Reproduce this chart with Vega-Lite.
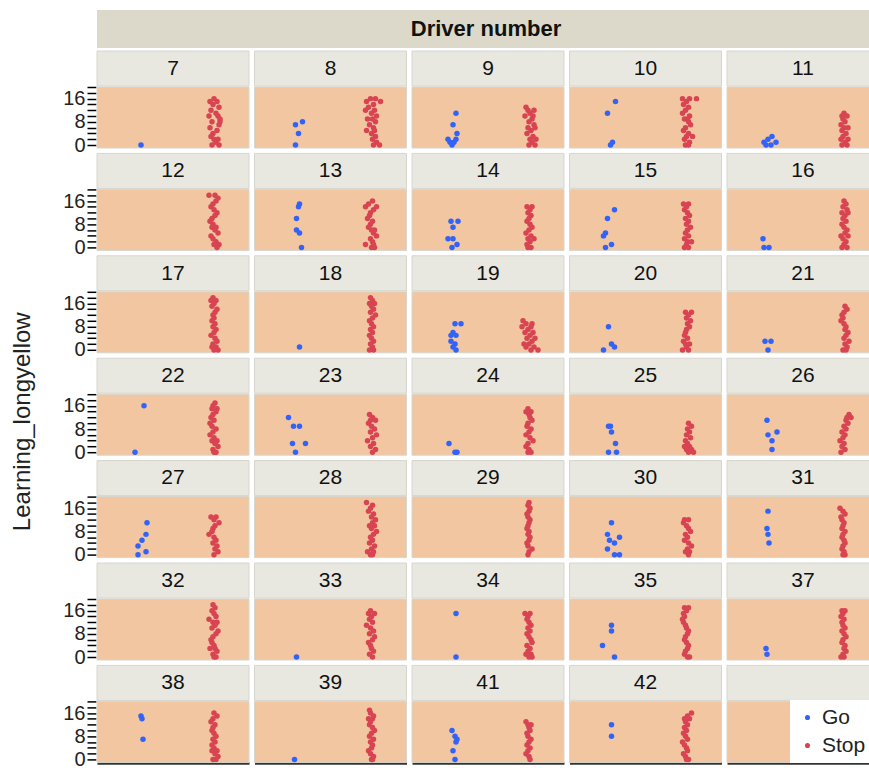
{
  "$schema": "https://vega.github.io/schema/vega-lite/v6.json",
  "background": "white",
  "padding": {"left": 10, "top": 10, "right": 0, "bottom": 2},
  "title": {"text": "Learning_longyellow", "orient": "left", "anchor": "middle", "fontSize": 24, "fontWeight": "normal", "font": "Liberation Sans", "color": "#222", "offset": 28, "dx": -32},
  "config": {
    "font": "Liberation Sans",
    "view": {"stroke": null},
    "header": {"labels": false, "title": null, "labelPadding": 0, "labelFontSize": 1, "labelColor": "transparent", "labelExpr": "''"},
    "headerFacet": {"labels": false, "title": null, "labelPadding": 0, "labelFontSize": 1, "labelColor": "transparent", "labelExpr": "''"}
  },
  "spacing": 1,
  "vconcat": [
    {
      "width": 778,
      "height": 38,
      "view": {"fill": "#DCD9CA", "stroke": null},
      "data": {"values": [{"label": "Driver number"}]},
      "mark": {"type": "text", "fontWeight": "bold", "fontSize": 22, "color": "#111", "baseline": "middle"},
      "encoding": {"text": {"field": "label"}}
    },
    {
      "data": {"values": [
        {"d":"7","r":"Go","v":0,"j":4},
        {"d":"7","r":"Stop","v":16,"j":1},{"d":"7","r":"Stop","v":15,"j":-3},{"d":"7","r":"Stop","v":15,"j":4},{"d":"7","r":"Stop","v":14,"j":0},{"d":"7","r":"Stop","v":13,"j":6},{"d":"7","r":"Stop","v":12,"j":-2},{"d":"7","r":"Stop","v":11,"j":3},{"d":"7","r":"Stop","v":10,"j":-4},{"d":"7","r":"Stop","v":10,"j":5},{"d":"7","r":"Stop","v":9,"j":7},{"d":"7","r":"Stop","v":8,"j":-1},{"d":"7","r":"Stop","v":8,"j":7},{"d":"7","r":"Stop","v":7,"j":6},{"d":"7","r":"Stop","v":6,"j":-3},{"d":"7","r":"Stop","v":5,"j":4},{"d":"7","r":"Stop","v":4,"j":0},{"d":"7","r":"Stop","v":3,"j":-2},{"d":"7","r":"Stop","v":2,"j":5},{"d":"7","r":"Stop","v":2,"j":1},{"d":"7","r":"Stop","v":1,"j":3},{"d":"7","r":"Stop","v":0,"j":-1},{"d":"7","r":"Stop","v":0,"j":6},
        {"d":"8","r":"Go","v":8,"j":8},{"d":"8","r":"Go","v":7,"j":1},{"d":"8","r":"Go","v":4,"j":4},{"d":"8","r":"Go","v":0,"j":1},
        {"d":"8","r":"Stop","v":16,"j":0},{"d":"8","r":"Stop","v":16,"j":5},{"d":"8","r":"Stop","v":15,"j":-4},{"d":"8","r":"Stop","v":15,"j":10},{"d":"8","r":"Stop","v":14,"j":3},{"d":"8","r":"Stop","v":13,"j":-2},{"d":"8","r":"Stop","v":12,"j":4},{"d":"8","r":"Stop","v":12,"j":-5},{"d":"8","r":"Stop","v":11,"j":1},{"d":"8","r":"Stop","v":10,"j":6},{"d":"8","r":"Stop","v":9,"j":-3},{"d":"8","r":"Stop","v":9,"j":2},{"d":"8","r":"Stop","v":8,"j":5},{"d":"8","r":"Stop","v":7,"j":-1},{"d":"8","r":"Stop","v":6,"j":3},{"d":"8","r":"Stop","v":5,"j":-4},{"d":"8","r":"Stop","v":5,"j":4},{"d":"8","r":"Stop","v":4,"j":1},{"d":"8","r":"Stop","v":3,"j":5},{"d":"8","r":"Stop","v":2,"j":2},{"d":"8","r":"Stop","v":1,"j":6},{"d":"8","r":"Stop","v":0,"j":3},{"d":"8","r":"Stop","v":0,"j":9},
        {"d":"9","r":"Go","v":11,"j":4},{"d":"9","r":"Go","v":7,"j":1},{"d":"9","r":"Go","v":4,"j":5},{"d":"9","r":"Go","v":2,"j":-4},{"d":"9","r":"Go","v":1,"j":-2},{"d":"9","r":"Go","v":2,"j":4},{"d":"9","r":"Go","v":0,"j":0},{"d":"9","r":"Go","v":1,"j":2},
        {"d":"9","r":"Stop","v":13,"j":-2},{"d":"9","r":"Stop","v":12,"j":0},{"d":"9","r":"Stop","v":12,"j":6},{"d":"9","r":"Stop","v":11,"j":2},{"d":"9","r":"Stop","v":10,"j":-3},{"d":"9","r":"Stop","v":10,"j":5},{"d":"9","r":"Stop","v":9,"j":4},{"d":"9","r":"Stop","v":8,"j":1},{"d":"9","r":"Stop","v":7,"j":6},{"d":"9","r":"Stop","v":6,"j":0},{"d":"9","r":"Stop","v":6,"j":7},{"d":"9","r":"Stop","v":5,"j":3},{"d":"9","r":"Stop","v":4,"j":-1},{"d":"9","r":"Stop","v":3,"j":5},{"d":"9","r":"Stop","v":2,"j":2},{"d":"9","r":"Stop","v":2,"j":8},{"d":"9","r":"Stop","v":1,"j":4},{"d":"9","r":"Stop","v":0,"j":1},{"d":"9","r":"Stop","v":0,"j":7},
        {"d":"10","r":"Go","v":15,"j":6},{"d":"10","r":"Go","v":11,"j":-2},{"d":"10","r":"Go","v":1,"j":3},{"d":"10","r":"Go","v":0,"j":1},
        {"d":"10","r":"Stop","v":16,"j":-3},{"d":"10","r":"Stop","v":16,"j":4},{"d":"10","r":"Stop","v":16,"j":11},{"d":"10","r":"Stop","v":15,"j":1},{"d":"10","r":"Stop","v":14,"j":-2},{"d":"10","r":"Stop","v":13,"j":3},{"d":"10","r":"Stop","v":12,"j":0},{"d":"10","r":"Stop","v":11,"j":-3},{"d":"10","r":"Stop","v":10,"j":4},{"d":"10","r":"Stop","v":9,"j":2},{"d":"10","r":"Stop","v":9,"j":-1},{"d":"10","r":"Stop","v":8,"j":3},{"d":"10","r":"Stop","v":7,"j":5},{"d":"10","r":"Stop","v":6,"j":0},{"d":"10","r":"Stop","v":5,"j":-2},{"d":"10","r":"Stop","v":4,"j":3},{"d":"10","r":"Stop","v":3,"j":1},{"d":"10","r":"Stop","v":3,"j":7},{"d":"10","r":"Stop","v":2,"j":-1},{"d":"10","r":"Stop","v":1,"j":4},{"d":"10","r":"Stop","v":0,"j":0},{"d":"10","r":"Stop","v":0,"j":3},
        {"d":"11","r":"Go","v":3,"j":5},{"d":"11","r":"Go","v":2,"j":1},{"d":"11","r":"Go","v":1,"j":-3},{"d":"11","r":"Go","v":1,"j":9},{"d":"11","r":"Go","v":0,"j":-1},{"d":"11","r":"Go","v":0,"j":4},
        {"d":"11","r":"Stop","v":11,"j":1},{"d":"11","r":"Stop","v":10,"j":-1},{"d":"11","r":"Stop","v":10,"j":4},{"d":"11","r":"Stop","v":9,"j":0},{"d":"11","r":"Stop","v":8,"j":2},{"d":"11","r":"Stop","v":7,"j":-2},{"d":"11","r":"Stop","v":6,"j":5},{"d":"11","r":"Stop","v":6,"j":1},{"d":"11","r":"Stop","v":5,"j":-1},{"d":"11","r":"Stop","v":4,"j":3},{"d":"11","r":"Stop","v":3,"j":0},{"d":"11","r":"Stop","v":2,"j":5},{"d":"11","r":"Stop","v":2,"j":-2},{"d":"11","r":"Stop","v":1,"j":2},{"d":"11","r":"Stop","v":0,"j":-1},{"d":"11","r":"Stop","v":0,"j":4},
        {"d":"12","r":"Stop","v":18,"j":-4},{"d":"12","r":"Stop","v":18,"j":2},{"d":"12","r":"Stop","v":17,"j":5},{"d":"12","r":"Stop","v":16,"j":3},{"d":"12","r":"Stop","v":15,"j":0},{"d":"12","r":"Stop","v":14,"j":-2},{"d":"12","r":"Stop","v":13,"j":1},{"d":"12","r":"Stop","v":12,"j":4},{"d":"12","r":"Stop","v":11,"j":2},{"d":"12","r":"Stop","v":10,"j":-1},{"d":"12","r":"Stop","v":9,"j":-3},{"d":"12","r":"Stop","v":8,"j":0},{"d":"12","r":"Stop","v":7,"j":3},{"d":"12","r":"Stop","v":7,"j":-1},{"d":"12","r":"Stop","v":6,"j":2},{"d":"12","r":"Stop","v":5,"j":5},{"d":"12","r":"Stop","v":4,"j":-2},{"d":"12","r":"Stop","v":3,"j":0},{"d":"12","r":"Stop","v":2,"j":3},{"d":"12","r":"Stop","v":1,"j":1},{"d":"12","r":"Stop","v":1,"j":6},{"d":"12","r":"Stop","v":0,"j":4},
        {"d":"13","r":"Go","v":15,"j":5},{"d":"13","r":"Go","v":14,"j":4},{"d":"13","r":"Go","v":10,"j":2},{"d":"13","r":"Go","v":6,"j":2},{"d":"13","r":"Go","v":5,"j":5},{"d":"13","r":"Go","v":0,"j":7},
        {"d":"13","r":"Stop","v":16,"j":2},{"d":"13","r":"Stop","v":15,"j":-2},{"d":"13","r":"Stop","v":14,"j":-5},{"d":"13","r":"Stop","v":14,"j":6},{"d":"13","r":"Stop","v":13,"j":3},{"d":"13","r":"Stop","v":12,"j":0},{"d":"13","r":"Stop","v":11,"j":-1},{"d":"13","r":"Stop","v":10,"j":-3},{"d":"13","r":"Stop","v":9,"j":2},{"d":"13","r":"Stop","v":8,"j":0},{"d":"13","r":"Stop","v":7,"j":-2},{"d":"13","r":"Stop","v":6,"j":1},{"d":"13","r":"Stop","v":6,"j":4},{"d":"13","r":"Stop","v":5,"j":3},{"d":"13","r":"Stop","v":4,"j":6},{"d":"13","r":"Stop","v":3,"j":0},{"d":"13","r":"Stop","v":2,"j":2},{"d":"13","r":"Stop","v":1,"j":-5},{"d":"13","r":"Stop","v":1,"j":3},{"d":"13","r":"Stop","v":0,"j":1},{"d":"13","r":"Stop","v":0,"j":4},
        {"d":"14","r":"Go","v":9,"j":-1},{"d":"14","r":"Go","v":9,"j":6},{"d":"14","r":"Go","v":7,"j":1},{"d":"14","r":"Go","v":3,"j":-4},{"d":"14","r":"Go","v":3,"j":1},{"d":"14","r":"Go","v":1,"j":5},{"d":"14","r":"Go","v":0,"j":0},
        {"d":"14","r":"Stop","v":14,"j":-1},{"d":"14","r":"Stop","v":14,"j":4},{"d":"14","r":"Stop","v":13,"j":2},{"d":"14","r":"Stop","v":12,"j":0},{"d":"14","r":"Stop","v":11,"j":3},{"d":"14","r":"Stop","v":10,"j":1},{"d":"14","r":"Stop","v":9,"j":-1},{"d":"14","r":"Stop","v":8,"j":2},{"d":"14","r":"Stop","v":7,"j":4},{"d":"14","r":"Stop","v":6,"j":1},{"d":"14","r":"Stop","v":5,"j":-2},{"d":"14","r":"Stop","v":4,"j":3},{"d":"14","r":"Stop","v":3,"j":0},{"d":"14","r":"Stop","v":3,"j":6},{"d":"14","r":"Stop","v":2,"j":2},{"d":"14","r":"Stop","v":1,"j":-1},{"d":"14","r":"Stop","v":0,"j":3},{"d":"14","r":"Stop","v":0,"j":0},
        {"d":"15","r":"Go","v":13,"j":5},{"d":"15","r":"Go","v":10,"j":-2},{"d":"15","r":"Go","v":5,"j":-4},{"d":"15","r":"Go","v":4,"j":-6},{"d":"15","r":"Go","v":1,"j":2},{"d":"15","r":"Go","v":0,"j":-4},
        {"d":"15","r":"Stop","v":15,"j":-2},{"d":"15","r":"Stop","v":15,"j":3},{"d":"15","r":"Stop","v":14,"j":1},{"d":"15","r":"Stop","v":13,"j":-1},{"d":"15","r":"Stop","v":12,"j":2},{"d":"15","r":"Stop","v":11,"j":4},{"d":"15","r":"Stop","v":10,"j":0},{"d":"15","r":"Stop","v":9,"j":3},{"d":"15","r":"Stop","v":8,"j":1},{"d":"15","r":"Stop","v":7,"j":5},{"d":"15","r":"Stop","v":6,"j":2},{"d":"15","r":"Stop","v":5,"j":0},{"d":"15","r":"Stop","v":4,"j":3},{"d":"15","r":"Stop","v":3,"j":-1},{"d":"15","r":"Stop","v":2,"j":2},{"d":"15","r":"Stop","v":2,"j":6},{"d":"15","r":"Stop","v":1,"j":1},{"d":"15","r":"Stop","v":0,"j":-1},{"d":"15","r":"Stop","v":0,"j":3},
        {"d":"16","r":"Go","v":3,"j":-4},{"d":"16","r":"Go","v":0,"j":-3},{"d":"16","r":"Go","v":0,"j":2},
        {"d":"16","r":"Stop","v":16,"j":1},{"d":"16","r":"Stop","v":15,"j":3},{"d":"16","r":"Stop","v":14,"j":0},{"d":"16","r":"Stop","v":13,"j":4},{"d":"16","r":"Stop","v":12,"j":-1},{"d":"16","r":"Stop","v":12,"j":5},{"d":"16","r":"Stop","v":11,"j":2},{"d":"16","r":"Stop","v":10,"j":0},{"d":"16","r":"Stop","v":9,"j":3},{"d":"16","r":"Stop","v":8,"j":-1},{"d":"16","r":"Stop","v":7,"j":1},{"d":"16","r":"Stop","v":6,"j":4},{"d":"16","r":"Stop","v":5,"j":2},{"d":"16","r":"Stop","v":4,"j":-2},{"d":"16","r":"Stop","v":4,"j":5},{"d":"16","r":"Stop","v":3,"j":0},{"d":"16","r":"Stop","v":2,"j":3},{"d":"16","r":"Stop","v":1,"j":1},{"d":"16","r":"Stop","v":0,"j":-1},{"d":"16","r":"Stop","v":0,"j":4},
        {"d":"17","r":"Stop","v":18,"j":0},{"d":"17","r":"Stop","v":17,"j":-2},{"d":"17","r":"Stop","v":17,"j":3},{"d":"17","r":"Stop","v":16,"j":1},{"d":"17","r":"Stop","v":15,"j":-1},{"d":"17","r":"Stop","v":14,"j":4},{"d":"17","r":"Stop","v":13,"j":2},{"d":"17","r":"Stop","v":12,"j":0},{"d":"17","r":"Stop","v":11,"j":1},{"d":"17","r":"Stop","v":10,"j":-1},{"d":"17","r":"Stop","v":9,"j":2},{"d":"17","r":"Stop","v":8,"j":0},{"d":"17","r":"Stop","v":7,"j":3},{"d":"17","r":"Stop","v":6,"j":1},{"d":"17","r":"Stop","v":5,"j":-2},{"d":"17","r":"Stop","v":4,"j":2},{"d":"17","r":"Stop","v":3,"j":4},{"d":"17","r":"Stop","v":2,"j":0},{"d":"17","r":"Stop","v":1,"j":3},{"d":"17","r":"Stop","v":1,"j":-1},{"d":"17","r":"Stop","v":0,"j":1},{"d":"17","r":"Stop","v":0,"j":5},
        {"d":"18","r":"Go","v":1,"j":5},
        {"d":"18","r":"Stop","v":18,"j":0},{"d":"18","r":"Stop","v":17,"j":2},{"d":"18","r":"Stop","v":16,"j":-1},{"d":"18","r":"Stop","v":16,"j":4},{"d":"18","r":"Stop","v":15,"j":1},{"d":"18","r":"Stop","v":14,"j":3},{"d":"18","r":"Stop","v":13,"j":0},{"d":"18","r":"Stop","v":12,"j":5},{"d":"18","r":"Stop","v":11,"j":2},{"d":"18","r":"Stop","v":10,"j":-1},{"d":"18","r":"Stop","v":9,"j":1},{"d":"18","r":"Stop","v":8,"j":3},{"d":"18","r":"Stop","v":7,"j":0},{"d":"18","r":"Stop","v":6,"j":2},{"d":"18","r":"Stop","v":5,"j":-1},{"d":"18","r":"Stop","v":4,"j":1},{"d":"18","r":"Stop","v":3,"j":3},{"d":"18","r":"Stop","v":2,"j":0},{"d":"18","r":"Stop","v":1,"j":2},{"d":"18","r":"Stop","v":0,"j":-1},{"d":"18","r":"Stop","v":0,"j":3},
        {"d":"19","r":"Go","v":9,"j":3},{"d":"19","r":"Go","v":9,"j":9},{"d":"19","r":"Go","v":6,"j":1},{"d":"19","r":"Go","v":5,"j":-1},{"d":"19","r":"Go","v":5,"j":4},{"d":"19","r":"Go","v":3,"j":-1},{"d":"19","r":"Go","v":2,"j":3},{"d":"19","r":"Go","v":1,"j":1},{"d":"19","r":"Go","v":0,"j":4},
        {"d":"19","r":"Stop","v":10,"j":-5},{"d":"19","r":"Stop","v":9,"j":-2},{"d":"19","r":"Stop","v":9,"j":4},{"d":"19","r":"Stop","v":8,"j":-6},{"d":"19","r":"Stop","v":8,"j":3},{"d":"19","r":"Stop","v":7,"j":0},{"d":"19","r":"Stop","v":6,"j":5},{"d":"19","r":"Stop","v":6,"j":-3},{"d":"19","r":"Stop","v":5,"j":2},{"d":"19","r":"Stop","v":4,"j":-1},{"d":"19","r":"Stop","v":4,"j":7},{"d":"19","r":"Stop","v":3,"j":4},{"d":"19","r":"Stop","v":2,"j":-4},{"d":"19","r":"Stop","v":2,"j":1},{"d":"19","r":"Stop","v":1,"j":6},{"d":"19","r":"Stop","v":1,"j":-2},{"d":"19","r":"Stop","v":0,"j":3},{"d":"19","r":"Stop","v":0,"j":10},
        {"d":"20","r":"Go","v":8,"j":-1},{"d":"20","r":"Go","v":2,"j":2},{"d":"20","r":"Go","v":1,"j":5},{"d":"20","r":"Go","v":0,"j":-6},
        {"d":"20","r":"Stop","v":13,"j":0},{"d":"20","r":"Stop","v":13,"j":6},{"d":"20","r":"Stop","v":12,"j":3},{"d":"20","r":"Stop","v":11,"j":1},{"d":"20","r":"Stop","v":10,"j":5},{"d":"20","r":"Stop","v":9,"j":2},{"d":"20","r":"Stop","v":8,"j":4},{"d":"20","r":"Stop","v":7,"j":1},{"d":"20","r":"Stop","v":6,"j":0},{"d":"20","r":"Stop","v":5,"j":-1},{"d":"20","r":"Stop","v":4,"j":2},{"d":"20","r":"Stop","v":3,"j":-2},{"d":"20","r":"Stop","v":2,"j":0},{"d":"20","r":"Stop","v":2,"j":4},{"d":"20","r":"Stop","v":1,"j":1},{"d":"20","r":"Stop","v":0,"j":-3},{"d":"20","r":"Stop","v":0,"j":3},
        {"d":"21","r":"Go","v":3,"j":-2},{"d":"21","r":"Go","v":3,"j":4},{"d":"21","r":"Go","v":0,"j":1},
        {"d":"21","r":"Stop","v":15,"j":2},{"d":"21","r":"Stop","v":14,"j":4},{"d":"21","r":"Stop","v":13,"j":1},{"d":"21","r":"Stop","v":12,"j":-1},{"d":"21","r":"Stop","v":11,"j":0},{"d":"21","r":"Stop","v":10,"j":-2},{"d":"21","r":"Stop","v":9,"j":1},{"d":"21","r":"Stop","v":8,"j":3},{"d":"21","r":"Stop","v":7,"j":2},{"d":"21","r":"Stop","v":6,"j":5},{"d":"21","r":"Stop","v":5,"j":3},{"d":"21","r":"Stop","v":4,"j":1},{"d":"21","r":"Stop","v":3,"j":6},{"d":"21","r":"Stop","v":2,"j":2},{"d":"21","r":"Stop","v":1,"j":4},{"d":"21","r":"Stop","v":0,"j":0},{"d":"21","r":"Stop","v":0,"j":3},
        {"d":"22","r":"Go","v":16,"j":7},{"d":"22","r":"Go","v":0,"j":-2},
        {"d":"22","r":"Stop","v":17,"j":2},{"d":"22","r":"Stop","v":16,"j":0},{"d":"22","r":"Stop","v":15,"j":-1},{"d":"22","r":"Stop","v":15,"j":4},{"d":"22","r":"Stop","v":14,"j":3},{"d":"22","r":"Stop","v":13,"j":0},{"d":"22","r":"Stop","v":12,"j":-2},{"d":"22","r":"Stop","v":11,"j":1},{"d":"22","r":"Stop","v":10,"j":-3},{"d":"22","r":"Stop","v":9,"j":-1},{"d":"22","r":"Stop","v":8,"j":3},{"d":"22","r":"Stop","v":7,"j":0},{"d":"22","r":"Stop","v":6,"j":-3},{"d":"22","r":"Stop","v":5,"j":1},{"d":"22","r":"Stop","v":4,"j":4},{"d":"22","r":"Stop","v":4,"j":-1},{"d":"22","r":"Stop","v":3,"j":2},{"d":"22","r":"Stop","v":2,"j":5},{"d":"22","r":"Stop","v":1,"j":0},{"d":"22","r":"Stop","v":0,"j":3},{"d":"22","r":"Stop","v":0,"j":1},
        {"d":"23","r":"Go","v":12,"j":-6},{"d":"23","r":"Go","v":9,"j":-1},{"d":"23","r":"Go","v":9,"j":5},{"d":"23","r":"Go","v":3,"j":-2},{"d":"23","r":"Go","v":3,"j":11},{"d":"23","r":"Go","v":0,"j":1},
        {"d":"23","r":"Stop","v":13,"j":-1},{"d":"23","r":"Stop","v":12,"j":2},{"d":"23","r":"Stop","v":11,"j":0},{"d":"23","r":"Stop","v":11,"j":5},{"d":"23","r":"Stop","v":10,"j":-2},{"d":"23","r":"Stop","v":9,"j":1},{"d":"23","r":"Stop","v":8,"j":4},{"d":"23","r":"Stop","v":7,"j":0},{"d":"23","r":"Stop","v":6,"j":6},{"d":"23","r":"Stop","v":5,"j":2},{"d":"23","r":"Stop","v":4,"j":-3},{"d":"23","r":"Stop","v":3,"j":3},{"d":"23","r":"Stop","v":2,"j":0},{"d":"23","r":"Stop","v":1,"j":5},{"d":"23","r":"Stop","v":0,"j":2},
        {"d":"24","r":"Go","v":3,"j":-3},{"d":"24","r":"Go","v":0,"j":3},{"d":"24","r":"Go","v":0,"j":5},
        {"d":"24","r":"Stop","v":15,"j":0},{"d":"24","r":"Stop","v":14,"j":-2},{"d":"24","r":"Stop","v":14,"j":3},{"d":"24","r":"Stop","v":13,"j":1},{"d":"24","r":"Stop","v":12,"j":2},{"d":"24","r":"Stop","v":11,"j":4},{"d":"24","r":"Stop","v":10,"j":0},{"d":"24","r":"Stop","v":9,"j":-1},{"d":"24","r":"Stop","v":8,"j":3},{"d":"24","r":"Stop","v":7,"j":1},{"d":"24","r":"Stop","v":6,"j":-2},{"d":"24","r":"Stop","v":5,"j":2},{"d":"24","r":"Stop","v":4,"j":5},{"d":"24","r":"Stop","v":3,"j":0},{"d":"24","r":"Stop","v":2,"j":-2},{"d":"24","r":"Stop","v":1,"j":1},{"d":"24","r":"Stop","v":0,"j":3},{"d":"24","r":"Stop","v":0,"j":0},
        {"d":"25","r":"Go","v":9,"j":-1},{"d":"25","r":"Go","v":9,"j":1},{"d":"25","r":"Go","v":7,"j":2},{"d":"25","r":"Go","v":3,"j":6},{"d":"25","r":"Go","v":0,"j":-1},{"d":"25","r":"Go","v":0,"j":7},
        {"d":"25","r":"Stop","v":10,"j":3},{"d":"25","r":"Stop","v":9,"j":6},{"d":"25","r":"Stop","v":8,"j":2},{"d":"25","r":"Stop","v":7,"j":4},{"d":"25","r":"Stop","v":6,"j":1},{"d":"25","r":"Stop","v":5,"j":5},{"d":"25","r":"Stop","v":4,"j":0},{"d":"25","r":"Stop","v":3,"j":2},{"d":"25","r":"Stop","v":2,"j":-1},{"d":"25","r":"Stop","v":2,"j":4},{"d":"25","r":"Stop","v":1,"j":1},{"d":"25","r":"Stop","v":1,"j":6},{"d":"25","r":"Stop","v":0,"j":3},{"d":"25","r":"Stop","v":0,"j":8},
        {"d":"26","r":"Go","v":11,"j":0},{"d":"26","r":"Go","v":7,"j":10},{"d":"26","r":"Go","v":6,"j":1},{"d":"26","r":"Go","v":4,"j":5},{"d":"26","r":"Go","v":1,"j":5},
        {"d":"26","r":"Stop","v":13,"j":6},{"d":"26","r":"Stop","v":12,"j":4},{"d":"26","r":"Stop","v":12,"j":8},{"d":"26","r":"Stop","v":11,"j":3},{"d":"26","r":"Stop","v":10,"j":5},{"d":"26","r":"Stop","v":9,"j":1},{"d":"26","r":"Stop","v":8,"j":3},{"d":"26","r":"Stop","v":7,"j":-1},{"d":"26","r":"Stop","v":6,"j":2},{"d":"26","r":"Stop","v":5,"j":0},{"d":"26","r":"Stop","v":4,"j":-3},{"d":"26","r":"Stop","v":3,"j":1},{"d":"26","r":"Stop","v":2,"j":-1},{"d":"26","r":"Stop","v":1,"j":2},{"d":"26","r":"Stop","v":0,"j":-2},
        {"d":"27","r":"Go","v":11,"j":10},{"d":"27","r":"Go","v":7,"j":9},{"d":"27","r":"Go","v":5,"j":5},{"d":"27","r":"Go","v":3,"j":1},{"d":"27","r":"Go","v":1,"j":9},{"d":"27","r":"Go","v":0,"j":1},
        {"d":"27","r":"Stop","v":13,"j":-2},{"d":"27","r":"Stop","v":13,"j":3},{"d":"27","r":"Stop","v":12,"j":1},{"d":"27","r":"Stop","v":11,"j":6},{"d":"27","r":"Stop","v":10,"j":2},{"d":"27","r":"Stop","v":9,"j":0},{"d":"27","r":"Stop","v":8,"j":-1},{"d":"27","r":"Stop","v":7,"j":-4},{"d":"27","r":"Stop","v":6,"j":1},{"d":"27","r":"Stop","v":5,"j":3},{"d":"27","r":"Stop","v":4,"j":0},{"d":"27","r":"Stop","v":3,"j":4},{"d":"27","r":"Stop","v":2,"j":2},{"d":"27","r":"Stop","v":1,"j":5},{"d":"27","r":"Stop","v":0,"j":1},
        {"d":"28","r":"Stop","v":18,"j":-4},{"d":"28","r":"Stop","v":17,"j":2},{"d":"28","r":"Stop","v":16,"j":0},{"d":"28","r":"Stop","v":15,"j":-2},{"d":"28","r":"Stop","v":14,"j":3},{"d":"28","r":"Stop","v":13,"j":1},{"d":"28","r":"Stop","v":12,"j":5},{"d":"28","r":"Stop","v":11,"j":2},{"d":"28","r":"Stop","v":10,"j":-1},{"d":"28","r":"Stop","v":10,"j":4},{"d":"28","r":"Stop","v":9,"j":1},{"d":"28","r":"Stop","v":8,"j":6},{"d":"28","r":"Stop","v":7,"j":3},{"d":"28","r":"Stop","v":6,"j":0},{"d":"28","r":"Stop","v":5,"j":2},{"d":"28","r":"Stop","v":4,"j":-1},{"d":"28","r":"Stop","v":3,"j":4},{"d":"28","r":"Stop","v":2,"j":1},{"d":"28","r":"Stop","v":1,"j":-3},{"d":"28","r":"Stop","v":1,"j":3},{"d":"28","r":"Stop","v":0,"j":0},{"d":"28","r":"Stop","v":0,"j":2},
        {"d":"29","r":"Stop","v":18,"j":1},{"d":"29","r":"Stop","v":17,"j":0},{"d":"29","r":"Stop","v":16,"j":2},{"d":"29","r":"Stop","v":15,"j":1},{"d":"29","r":"Stop","v":14,"j":-1},{"d":"29","r":"Stop","v":13,"j":0},{"d":"29","r":"Stop","v":12,"j":2},{"d":"29","r":"Stop","v":11,"j":1},{"d":"29","r":"Stop","v":10,"j":0},{"d":"29","r":"Stop","v":9,"j":-1},{"d":"29","r":"Stop","v":8,"j":1},{"d":"29","r":"Stop","v":7,"j":0},{"d":"29","r":"Stop","v":6,"j":2},{"d":"29","r":"Stop","v":5,"j":1},{"d":"29","r":"Stop","v":4,"j":-1},{"d":"29","r":"Stop","v":3,"j":0},{"d":"29","r":"Stop","v":2,"j":4},{"d":"29","r":"Stop","v":1,"j":1},{"d":"29","r":"Stop","v":0,"j":0},
        {"d":"30","r":"Go","v":11,"j":2},{"d":"30","r":"Go","v":7,"j":-2},{"d":"30","r":"Go","v":6,"j":10},{"d":"30","r":"Go","v":5,"j":0},{"d":"30","r":"Go","v":4,"j":5},{"d":"30","r":"Go","v":2,"j":-2},{"d":"30","r":"Go","v":0,"j":5},{"d":"30","r":"Go","v":0,"j":10},
        {"d":"30","r":"Stop","v":12,"j":-1},{"d":"30","r":"Stop","v":12,"j":3},{"d":"30","r":"Stop","v":11,"j":-2},{"d":"30","r":"Stop","v":10,"j":1},{"d":"30","r":"Stop","v":9,"j":3},{"d":"30","r":"Stop","v":8,"j":5},{"d":"30","r":"Stop","v":7,"j":0},{"d":"30","r":"Stop","v":6,"j":2},{"d":"30","r":"Stop","v":5,"j":-1},{"d":"30","r":"Stop","v":4,"j":3},{"d":"30","r":"Stop","v":3,"j":6},{"d":"30","r":"Stop","v":2,"j":2},{"d":"30","r":"Stop","v":1,"j":0},{"d":"30","r":"Stop","v":1,"j":4},{"d":"30","r":"Stop","v":0,"j":3},
        {"d":"31","r":"Go","v":15,"j":1},{"d":"31","r":"Go","v":9,"j":0},{"d":"31","r":"Go","v":7,"j":1},{"d":"31","r":"Go","v":4,"j":2},
        {"d":"31","r":"Stop","v":16,"j":-3},{"d":"31","r":"Stop","v":15,"j":0},{"d":"31","r":"Stop","v":14,"j":2},{"d":"31","r":"Stop","v":13,"j":-2},{"d":"31","r":"Stop","v":12,"j":-1},{"d":"31","r":"Stop","v":11,"j":1},{"d":"31","r":"Stop","v":10,"j":0},{"d":"31","r":"Stop","v":9,"j":-1},{"d":"31","r":"Stop","v":8,"j":2},{"d":"31","r":"Stop","v":7,"j":0},{"d":"31","r":"Stop","v":6,"j":-1},{"d":"31","r":"Stop","v":5,"j":1},{"d":"31","r":"Stop","v":4,"j":2},{"d":"31","r":"Stop","v":3,"j":0},{"d":"31","r":"Stop","v":2,"j":-1},{"d":"31","r":"Stop","v":1,"j":1},{"d":"31","r":"Stop","v":0,"j":0},{"d":"31","r":"Stop","v":0,"j":2},
        {"d":"32","r":"Stop","v":18,"j":0},{"d":"32","r":"Stop","v":17,"j":2},{"d":"32","r":"Stop","v":16,"j":-1},{"d":"32","r":"Stop","v":15,"j":1},{"d":"32","r":"Stop","v":14,"j":3},{"d":"32","r":"Stop","v":13,"j":-4},{"d":"32","r":"Stop","v":12,"j":0},{"d":"32","r":"Stop","v":12,"j":4},{"d":"32","r":"Stop","v":11,"j":2},{"d":"32","r":"Stop","v":10,"j":-1},{"d":"32","r":"Stop","v":9,"j":5},{"d":"32","r":"Stop","v":8,"j":3},{"d":"32","r":"Stop","v":7,"j":0},{"d":"32","r":"Stop","v":6,"j":-2},{"d":"32","r":"Stop","v":5,"j":-1},{"d":"32","r":"Stop","v":4,"j":1},{"d":"32","r":"Stop","v":3,"j":-3},{"d":"32","r":"Stop","v":3,"j":2},{"d":"32","r":"Stop","v":2,"j":4},{"d":"32","r":"Stop","v":1,"j":0},{"d":"32","r":"Stop","v":0,"j":1},{"d":"32","r":"Stop","v":0,"j":3},
        {"d":"33","r":"Go","v":0,"j":2},
        {"d":"33","r":"Stop","v":16,"j":0},{"d":"33","r":"Stop","v":15,"j":-2},{"d":"33","r":"Stop","v":15,"j":4},{"d":"33","r":"Stop","v":14,"j":1},{"d":"33","r":"Stop","v":13,"j":-1},{"d":"33","r":"Stop","v":12,"j":2},{"d":"33","r":"Stop","v":11,"j":-4},{"d":"33","r":"Stop","v":10,"j":0},{"d":"33","r":"Stop","v":9,"j":3},{"d":"33","r":"Stop","v":8,"j":-1},{"d":"33","r":"Stop","v":7,"j":4},{"d":"33","r":"Stop","v":6,"j":2},{"d":"33","r":"Stop","v":5,"j":-2},{"d":"33","r":"Stop","v":4,"j":0},{"d":"33","r":"Stop","v":3,"j":1},{"d":"33","r":"Stop","v":2,"j":3},{"d":"33","r":"Stop","v":1,"j":-1},{"d":"33","r":"Stop","v":0,"j":2},
        {"d":"34","r":"Go","v":15,"j":4},{"d":"34","r":"Go","v":0,"j":4},
        {"d":"34","r":"Stop","v":15,"j":-3},{"d":"34","r":"Stop","v":15,"j":2},{"d":"34","r":"Stop","v":14,"j":0},{"d":"34","r":"Stop","v":13,"j":-1},{"d":"34","r":"Stop","v":12,"j":1},{"d":"34","r":"Stop","v":11,"j":3},{"d":"34","r":"Stop","v":10,"j":0},{"d":"34","r":"Stop","v":9,"j":2},{"d":"34","r":"Stop","v":8,"j":-1},{"d":"34","r":"Stop","v":7,"j":1},{"d":"34","r":"Stop","v":6,"j":3},{"d":"34","r":"Stop","v":5,"j":4},{"d":"34","r":"Stop","v":4,"j":-1},{"d":"34","r":"Stop","v":3,"j":2},{"d":"34","r":"Stop","v":2,"j":0},{"d":"34","r":"Stop","v":1,"j":-2},{"d":"34","r":"Stop","v":1,"j":3},{"d":"34","r":"Stop","v":0,"j":1},{"d":"34","r":"Stop","v":0,"j":4},
        {"d":"35","r":"Go","v":11,"j":2},{"d":"35","r":"Go","v":9,"j":2},{"d":"35","r":"Go","v":4,"j":-7},{"d":"35","r":"Go","v":0,"j":5},
        {"d":"35","r":"Stop","v":17,"j":-1},{"d":"35","r":"Stop","v":17,"j":3},{"d":"35","r":"Stop","v":16,"j":1},{"d":"35","r":"Stop","v":15,"j":-2},{"d":"35","r":"Stop","v":14,"j":-1},{"d":"35","r":"Stop","v":13,"j":-3},{"d":"35","r":"Stop","v":12,"j":-2},{"d":"35","r":"Stop","v":11,"j":0},{"d":"35","r":"Stop","v":10,"j":1},{"d":"35","r":"Stop","v":9,"j":3},{"d":"35","r":"Stop","v":8,"j":2},{"d":"35","r":"Stop","v":7,"j":0},{"d":"35","r":"Stop","v":6,"j":-1},{"d":"35","r":"Stop","v":5,"j":1},{"d":"35","r":"Stop","v":4,"j":3},{"d":"35","r":"Stop","v":3,"j":2},{"d":"35","r":"Stop","v":2,"j":0},{"d":"35","r":"Stop","v":1,"j":-1},{"d":"35","r":"Stop","v":0,"j":2},{"d":"35","r":"Stop","v":0,"j":4},
        {"d":"37","r":"Go","v":3,"j":-1},{"d":"37","r":"Go","v":1,"j":0},
        {"d":"37","r":"Stop","v":16,"j":-1},{"d":"37","r":"Stop","v":16,"j":2},{"d":"37","r":"Stop","v":15,"j":0},{"d":"37","r":"Stop","v":14,"j":-2},{"d":"37","r":"Stop","v":13,"j":1},{"d":"37","r":"Stop","v":12,"j":-1},{"d":"37","r":"Stop","v":11,"j":0},{"d":"37","r":"Stop","v":10,"j":2},{"d":"37","r":"Stop","v":9,"j":-1},{"d":"37","r":"Stop","v":8,"j":1},{"d":"37","r":"Stop","v":7,"j":3},{"d":"37","r":"Stop","v":6,"j":0},{"d":"37","r":"Stop","v":5,"j":-1},{"d":"37","r":"Stop","v":4,"j":2},{"d":"37","r":"Stop","v":3,"j":1},{"d":"37","r":"Stop","v":2,"j":3},{"d":"37","r":"Stop","v":1,"j":0},{"d":"37","r":"Stop","v":0,"j":-2},{"d":"37","r":"Stop","v":0,"j":1},
        {"d":"38","r":"Go","v":15,"j":4},{"d":"38","r":"Go","v":14,"j":5},{"d":"38","r":"Go","v":7,"j":6},
        {"d":"38","r":"Stop","v":16,"j":1},{"d":"38","r":"Stop","v":15,"j":4},{"d":"38","r":"Stop","v":14,"j":0},{"d":"38","r":"Stop","v":13,"j":-2},{"d":"38","r":"Stop","v":12,"j":2},{"d":"38","r":"Stop","v":11,"j":0},{"d":"38","r":"Stop","v":10,"j":-1},{"d":"38","r":"Stop","v":9,"j":1},{"d":"38","r":"Stop","v":8,"j":3},{"d":"38","r":"Stop","v":7,"j":0},{"d":"38","r":"Stop","v":6,"j":2},{"d":"38","r":"Stop","v":5,"j":-1},{"d":"38","r":"Stop","v":4,"j":1},{"d":"38","r":"Stop","v":3,"j":4},{"d":"38","r":"Stop","v":3,"j":-1},{"d":"38","r":"Stop","v":2,"j":2},{"d":"38","r":"Stop","v":1,"j":5},{"d":"38","r":"Stop","v":0,"j":0},{"d":"38","r":"Stop","v":0,"j":3},
        {"d":"39","r":"Go","v":0,"j":0},
        {"d":"39","r":"Stop","v":17,"j":-1},{"d":"39","r":"Stop","v":16,"j":0},{"d":"39","r":"Stop","v":15,"j":3},{"d":"39","r":"Stop","v":14,"j":-2},{"d":"39","r":"Stop","v":14,"j":2},{"d":"39","r":"Stop","v":13,"j":0},{"d":"39","r":"Stop","v":12,"j":-1},{"d":"39","r":"Stop","v":11,"j":2},{"d":"39","r":"Stop","v":10,"j":4},{"d":"39","r":"Stop","v":9,"j":1},{"d":"39","r":"Stop","v":8,"j":-1},{"d":"39","r":"Stop","v":7,"j":3},{"d":"39","r":"Stop","v":6,"j":0},{"d":"39","r":"Stop","v":5,"j":2},{"d":"39","r":"Stop","v":4,"j":1},{"d":"39","r":"Stop","v":3,"j":-2},{"d":"39","r":"Stop","v":2,"j":0},{"d":"39","r":"Stop","v":1,"j":3},{"d":"39","r":"Stop","v":0,"j":1},{"d":"39","r":"Stop","v":0,"j":2},
        {"d":"41","r":"Go","v":10,"j":0},{"d":"41","r":"Go","v":8,"j":3},{"d":"41","r":"Go","v":7,"j":5},{"d":"41","r":"Go","v":6,"j":4},{"d":"41","r":"Go","v":3,"j":1},{"d":"41","r":"Go","v":0,"j":3},
        {"d":"41","r":"Stop","v":13,"j":-2},{"d":"41","r":"Stop","v":12,"j":3},{"d":"41","r":"Stop","v":12,"j":0},{"d":"41","r":"Stop","v":11,"j":1},{"d":"41","r":"Stop","v":10,"j":2},{"d":"41","r":"Stop","v":9,"j":-1},{"d":"41","r":"Stop","v":8,"j":0},{"d":"41","r":"Stop","v":7,"j":3},{"d":"41","r":"Stop","v":6,"j":1},{"d":"41","r":"Stop","v":5,"j":-1},{"d":"41","r":"Stop","v":4,"j":2},{"d":"41","r":"Stop","v":3,"j":0},{"d":"41","r":"Stop","v":2,"j":-2},{"d":"41","r":"Stop","v":1,"j":1},{"d":"41","r":"Stop","v":0,"j":2},
        {"d":"42","r":"Go","v":12,"j":2},{"d":"42","r":"Go","v":8,"j":2},
        {"d":"42","r":"Stop","v":16,"j":6},{"d":"42","r":"Stop","v":15,"j":2},{"d":"42","r":"Stop","v":14,"j":-1},{"d":"42","r":"Stop","v":14,"j":4},{"d":"42","r":"Stop","v":13,"j":0},{"d":"42","r":"Stop","v":12,"j":2},{"d":"42","r":"Stop","v":11,"j":-1},{"d":"42","r":"Stop","v":10,"j":1},{"d":"42","r":"Stop","v":9,"j":-2},{"d":"42","r":"Stop","v":8,"j":0},{"d":"42","r":"Stop","v":7,"j":2},{"d":"42","r":"Stop","v":6,"j":-3},{"d":"42","r":"Stop","v":5,"j":-1},{"d":"42","r":"Stop","v":4,"j":1},{"d":"42","r":"Stop","v":3,"j":2},{"d":"42","r":"Stop","v":2,"j":-2},{"d":"42","r":"Stop","v":1,"j":0},{"d":"42","r":"Stop","v":0,"j":3},{"d":"42","r":"Stop","v":0,"j":1},
        {"d":""}
      ]},
      "facet": {
        "field": "d",
        "type": "nominal",
        "sort": ["7","8","9","10","11","12","13","14","15","16","17","18","19","20","21","22","23","24","25","26","27","28","29","30","31","32","33","34","35","37","38","39","41","42",""],
        "header": {"labels": false, "title": null, "labelPadding": 0, "labelFontSize": 1, "labelColor": "transparent", "labelExpr": "''"}
      },
      "columns": 5,
      "spacing": {"row": 2.4, "column": 3.5},
      "spec": {
        "width": 152,
        "height": 97,
        "layer": [
          {
            "transform": [{"aggregate": [{"op": "count", "as": "n"}], "groupby": ["d"]}],
            "mark": {"type": "rect", "fill": "#F1C6A0", "stroke": "#D6D6CE", "strokeWidth": 1},
            "encoding": {
              "x": {"value": 0},
              "x2": {"value": "width"},
              "y": {"datum": -1, "type": "quantitative"},
              "y2": {"datum": 20}
            }
          },
          {
            "transform": [{"aggregate": [{"op": "count", "as": "n"}], "groupby": ["d"]}],
            "mark": {"type": "rect", "fill": "#E8E8E0", "stroke": "#D6D6CE", "strokeWidth": 1},
            "encoding": {
              "x": {"value": 0},
              "x2": {"value": "width"},
              "y": {"datum": 20.35, "type": "quantitative"},
              "y2": {"datum": 32.4}
            }
          },
          {
            "transform": [{"aggregate": [{"op": "count", "as": "n"}], "groupby": ["d"]}],
            "mark": {"type": "text", "fontSize": 21, "color": "#111", "baseline": "middle", "font": "Liberation Sans"},
            "encoding": {
              "y": {"datum": 26.3, "type": "quantitative"},
              "text": {"field": "d", "type": "nominal"}
            }
          },
          {
            "transform": [{"filter": "datum.r != null"}],
            "mark": {"type": "point", "filled": true, "size": 30, "opacity": 1, "shape": "circle"},
            "encoding": {
              "x": {
                "field": "r", "type": "nominal",
                "scale": {"type": "point", "domain": ["Go", "Stop"], "padding": 0.5},
                "axis": {"labels": false, "ticks": false, "title": null, "domain": true, "domainColor": "#333", "domainWidth": 2.5, "grid": false}
              },
              "xOffset": {"field": "j", "type": "quantitative", "scale": {"domain": [-10, 10], "range": [-8, 12]}},
              "y": {
                "field": "v", "type": "quantitative",
                "scale": {"domain": [-1, 32.4], "nice": false, "zero": false},
                "axis": {
                  "title": null,
                  "values": [0, 2, 4, 6, 8, 10, 12, 14, 16, 18, 20],
                  "tickCount": 21,
                  "labelOpacity": {"condition": {"test": "datum.value % 8 === 0", "value": 1}, "value": 0},
                  "labelOverlap": false,
                  "labelFlush": false,
                  "labelFontSize": 20,
                  "labelColor": "#222",
                  "labelPadding": 2,
                  "ticks": true,
                  "tickSize": 9,
                  "tickColor": "#000",
                  "tickWidth": 1.5,
                  "domain": false,
                  "grid": false
                }
              },
              "color": {
                "field": "r", "type": "nominal",
                "scale": {"domain": ["Go", "Stop"], "range": ["#3163F8", "#D84452"]},
                "legend": {
                  "orient": "none", "legendX": 693, "legendY": 690,
                  "title": null, "fillColor": "white", "padding": 7,
                  "labelFontSize": 21, "labelColor": "#222", "symbolSize": 26,
                  "symbolType": "circle", "rowPadding": 6
                }
              }
            }
          }
        ]
      }
    }
  ]
}
